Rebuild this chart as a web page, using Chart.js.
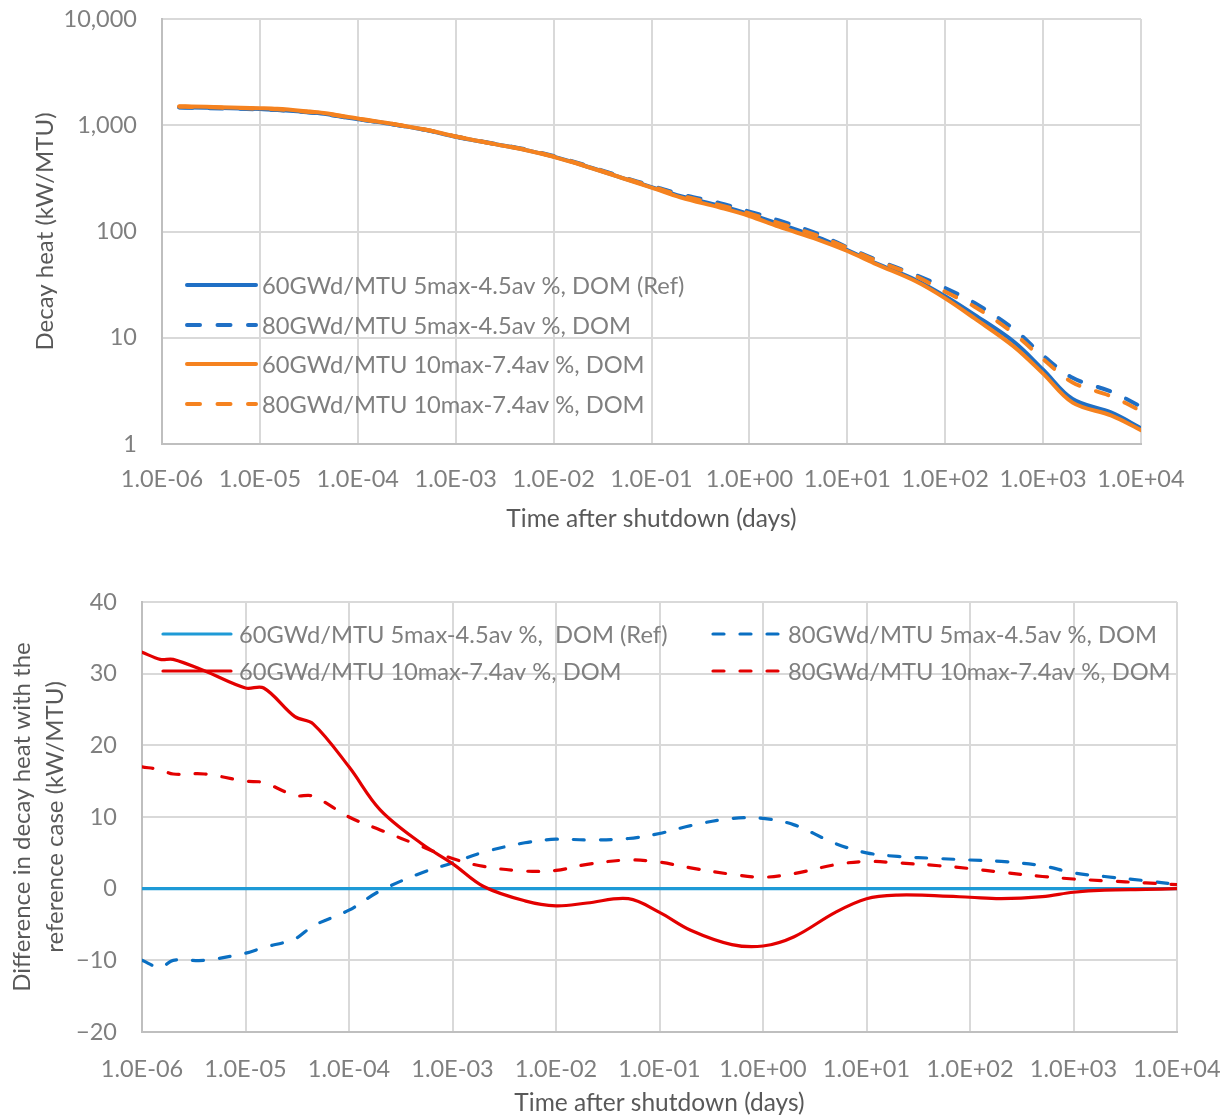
<!DOCTYPE html>
<html>
<head>
<meta charset="utf-8">
<title>Decay heat after shutdown</title>
<script src="https://cdn.jsdelivr.net/npm/chart.js@4.4.1/dist/chart.umd.min.js"></script>
<style>
  html, body { margin: 0; padding: 0; background: #ffffff; }
  #page { position: relative; width: 1230px; height: 1119px; overflow: hidden; }
  .panel { position: absolute; left: 0; width: 1230px; }
  #heatPanel { top: 0; height: 545px; }
  #diffPanel { top: 545px; height: 574px; }
  canvas { display: block; }
</style>
</head>
<body>
<div id="page">
  <div class="panel" id="heatPanel"><canvas id="heatChart" width="1230" height="545"></canvas></div>
  <div class="panel" id="diffPanel"><canvas id="diffChart" width="1230" height="574"></canvas></div>
</div>
<script>
// ---------- Series names ----------
const heatLabels = [
  '60GWd/MTU 5max-4.5av %, DOM (Ref)',
  '80GWd/MTU 5max-4.5av %, DOM',
  '60GWd/MTU 10max-7.4av %, DOM',
  '80GWd/MTU 10max-7.4av %, DOM'
];
const diffLabels = [
  '60GWd/MTU 5max-4.5av %,  DOM (Ref)',
  '80GWd/MTU 5max-4.5av %, DOM',
  '60GWd/MTU 10max-7.4av %, DOM',
  '80GWd/MTU 10max-7.4av %, DOM'
];

// ---------- Decay heat (kW/MTU) vs time after shutdown (days) ----------
const heatTimes = [1.5e-6, 2e-6, 4e-6, 1e-5, 1.5e-5, 3e-5, 4.5e-5, 1e-4, 2e-4, 5e-4,
  1e-3, 2e-3, 5e-3, 1e-2, 2e-2, 5e-2, 1e-1, 2e-1, 5e-1, 1,
  2, 5, 10, 20, 50, 100, 200, 500, 1000, 2000, 5000, 10000];
const heat60Enr5 = [1480, 1470, 1450, 1420, 1400, 1330, 1280, 1140, 1040, 900,
  780, 690, 590, 506, 420, 320, 262, 215, 175, 146,
  118, 88, 67, 50, 35, 24.6, 16.4, 9.2, 5.0, 2.65, 1.97, 1.41];
const heat80Enr5 = [1470, 1459, 1440, 1411, 1392, 1323, 1275, 1137, 1040, 902,
  784, 695, 597, 513, 427, 327, 270, 224, 185, 154,
  127, 95, 71, 54, 39, 29.4, 21.2, 12.1, 6.8, 4.2, 3.1, 2.25];
const heat60Enr10 = [1513, 1502, 1480, 1448, 1428, 1354, 1303, 1157, 1051, 906,
  784, 690, 588, 504, 418, 319, 259, 209, 168, 140,
  111, 84, 65.5, 49, 34, 23.5, 15.2, 8.3, 4.6, 2.45, 1.85, 1.35];
const heat80Enr10 = [1497, 1486, 1466, 1435, 1415, 1343, 1293, 1150, 1048, 906,
  784, 693, 593, 509, 423, 324, 266, 218, 177, 148,
  120, 91, 70, 53, 38, 27.1, 19.6, 11.0, 6.3, 3.8, 2.8, 2.05];

// ---------- Difference from the reference case (kW/MTU) ----------
const diffTimes = [1e-6, 1.5e-6, 2e-6, 4e-6, 1e-5, 1.5e-5, 3e-5, 4.5e-5, 1e-4, 2e-4,
  5e-4, 1e-3, 2e-3, 5e-3, 1e-2, 2e-2, 5e-2, 1e-1, 2e-1, 5e-1,
  1, 2, 5, 10, 20, 50, 100, 200, 500, 1000, 2000, 5000, 10000];
const diff60Enr5 = [0, 0, 0, 0, 0, 0, 0, 0, 0, 0,
  0, 0, 0, 0, 0, 0, 0, 0, 0, 0,
  0, 0, 0, 0, 0, 0, 0, 0, 0, 0, 0, 0, 0];
const diff80Enr5 = [-10, -11, -10, -10, -9, -8.2, -7, -5.2, -3, -0.3,
  2.2, 3.6, 5.1, 6.4, 6.9, 6.8, 7.0, 7.7, 8.8, 9.8,
  9.8, 8.9, 6.3, 5.0, 4.5, 4.2, 4.0, 3.8, 3.2, 2.2, 1.7, 1.1, 0.6];
const diff60Enr10 = [33, 32, 32, 30.4, 28, 28, 24, 23, 17, 11,
  6.3, 3.5, 0.3, -1.7, -2.4, -2.0, -1.4, -3.3, -5.8, -7.8,
  -8.0, -6.7, -3.3, -1.4, -0.9, -1.0, -1.2, -1.4, -1.1, -0.5, -0.2, -0.1, 0];
const diff80Enr10 = [17, 16.6, 16, 16, 15, 14.8, 13, 12.9, 10, 8.2,
  5.9, 4.2, 3.1, 2.45, 2.55, 3.4, 4.0, 3.7, 2.9, 2.0,
  1.6, 2.1, 3.35, 3.8, 3.6, 3.2, 2.8, 2.3, 1.7, 1.35, 1.1, 0.8, 0.55];

// ---------- Axis ticks ----------
const timeTickValues = [1e-6, 1e-5, 1e-4, 1e-3, 1e-2, 1e-1, 1, 10, 100, 1000, 10000];
const timeTickLabels = ['1.0E-06', '1.0E-05', '1.0E-04', '1.0E-03', '1.0E-02', '1.0E-01',
  '1.0E+00', '1.0E+01', '1.0E+02', '1.0E+03', '1.0E+04'];
const heatTickValues = [1, 10, 100, 1000, 10000];
const heatTickLabels = ['1', '10', '100', '1,000', '10,000'];
const diffTickValues = [-20, -10, 0, 10, 20, 30, 40];
const diffTickLabels = ['\u221220', '\u221210', '0', '10', '20', '30', '40'];

// ---------- Styling ----------
const FAMILY = 'Lato, "Open Sans", "DejaVu Sans", sans-serif';
const TICK_COLOR = '#7f7f7f';
const TITLE_COLOR = '#595959';
const GRID_COLOR = '#d9d9d9';
const AXIS_COLOR = '#bfbfbf';
const tickFont = { family: FAMILY, size: 23.5, lineHeight: 1.2 };
const xTitleFont = { family: FAMILY, size: 24.5, lineHeight: 1.2 };
const yTitleFont = { family: FAMILY, size: 24, lineHeight: 1.2 };
const LEGEND_SIZE = 23.7;

Chart.defaults.font.family = FAMILY;
Chart.defaults.animation = false;

const toPoints = (xs, ys) => xs.map((x, i) => ({ x: x, y: ys[i] }));

function lineSet(label, xs, ys, color, width, dash, order) {
  return {
    label: label,
    data: toPoints(xs, ys),
    borderColor: color,
    backgroundColor: color,
    borderWidth: width,
    borderDash: dash,
    borderCapStyle: 'round',
    borderJoinStyle: 'round',
    pointRadius: 0,
    pointHoverRadius: 0,
    fill: false,
    tension: 0.35,
    order: order
  };
}

// Legend drawn inside the plot area, using each dataset's own style
const plotLegend = {
  id: 'plotLegend',
  afterDatasetsDraw(chart, args, opts) {
    const ctx = chart.ctx;
    ctx.save();
    ctx.font = opts.fontSize + 'px ' + FAMILY;
    ctx.textBaseline = 'middle';
    ctx.textAlign = 'left';
    chart.data.datasets.forEach((ds, i) => {
      const it = opts.items[i];
      ctx.beginPath();
      ctx.strokeStyle = ds.borderColor;
      ctx.lineWidth = ds.borderWidth;
      ctx.lineCap = 'round';
      ctx.setLineDash(ds.borderDash || []);
      ctx.moveTo(it.x0, it.y);
      ctx.lineTo(it.x1, it.y);
      ctx.stroke();
      ctx.setLineDash([]);
      ctx.fillStyle = opts.color;
      ctx.fillText(ds.label, it.tx, it.y + 1);
    });
    ctx.restore();
  }
};

// Keep tick-label overflow from pushing the plot area around
function noOverflow(s) {
  s.paddingTop = 0; s.paddingBottom = 0; s.paddingLeft = 0; s.paddingRight = 0;
}

function timeAxis(axisHeight, tickPad, titlePadBottom) {
  return {
    type: 'logarithmic',
    min: 1e-6,
    max: 1e4,
    afterBuildTicks: s => { s.ticks = timeTickValues.map(v => ({ value: v })); },
    afterFit: s => { s.height = axisHeight; noOverflow(s); },
    ticks: {
      autoSkip: false, maxRotation: 0, minRotation: 0,
      padding: tickPad, color: TICK_COLOR, font: tickFont,
      callback: (v, i) => timeTickLabels[i]
    },
    grid: { color: GRID_COLOR, lineWidth: 2, drawTicks: false },
    border: { color: AXIS_COLOR, width: 2 },
    title: {
      display: true, text: 'Time after shutdown (days)', color: TITLE_COLOR,
      font: xTitleFont, padding: { top: 0, bottom: titlePadBottom }
    }
  };
}

// ---------- Upper chart: decay heat, log-log ----------
new Chart(document.getElementById('heatChart'), {
  type: 'line',
  data: {
    datasets: [
      lineSet(heatLabels[0], heatTimes, heat60Enr5, '#1f6fc5', 4, [], 4),
      lineSet(heatLabels[1], heatTimes, heat80Enr5, '#1f6fc5', 4, [13, 17.5], 3),
      lineSet(heatLabels[2], heatTimes, heat60Enr10, '#f5821f', 4, [], 2),
      lineSet(heatLabels[3], heatTimes, heat80Enr10, '#f5821f', 4, [13, 17.5], 1)
    ]
  },
  options: {
    responsive: false,
    animation: false,
    layout: { padding: { top: 19, right: 89, left: 0, bottom: 0 } },
    plugins: {
      legend: { display: false },
      tooltip: { enabled: false },
      plotLegend: {
        fontSize: LEGEND_SIZE, color: TICK_COLOR,
        items: [
          { x0: 187, x1: 256, y: 285, tx: 262 },
          { x0: 187, x1: 256, y: 325, tx: 262 },
          { x0: 187, x1: 256, y: 364, tx: 262 },
          { x0: 187, x1: 256, y: 404, tx: 262 }
        ]
      }
    },
    scales: {
      x: timeAxis(101, 21, 11),
      y: {
        type: 'logarithmic',
        min: 1,
        max: 10000,
        afterBuildTicks: s => { s.ticks = heatTickValues.map(v => ({ value: v })); },
        afterFit: s => { s.width = 162; noOverflow(s); },
        ticks: {
          autoSkip: false, padding: 25, color: TICK_COLOR, font: tickFont,
          callback: (v, i) => heatTickLabels[i]
        },
        grid: { color: GRID_COLOR, lineWidth: 2, drawTicks: false },
        border: { color: AXIS_COLOR, width: 2 },
        title: {
          display: true, text: 'Decay heat (kW/MTU)', color: TITLE_COLOR,
          font: yTitleFont, padding: { top: 31, bottom: 0 }
        }
      }
    }
  },
  plugins: [plotLegend]
});

// ---------- Lower chart: difference with the reference case ----------
new Chart(document.getElementById('diffChart'), {
  type: 'line',
  data: {
    datasets: [
      lineSet(diffLabels[0], diffTimes, diff60Enr5, '#1e9ad6', 3.2, [], 4),
      lineSet(diffLabels[1], diffTimes, diff80Enr5, '#0a6fc2', 3.2, [11, 16], 3),
      lineSet(diffLabels[2], diffTimes, diff60Enr10, '#e30000', 3.2, [], 2),
      lineSet(diffLabels[3], diffTimes, diff80Enr10, '#e30000', 3.2, [11, 16], 1)
    ]
  },
  options: {
    responsive: false,
    animation: false,
    layout: { padding: { top: 57, right: 53, left: 0, bottom: 0 } },
    plugins: {
      legend: { display: false },
      tooltip: { enabled: false },
      plotLegend: {
        fontSize: LEGEND_SIZE, color: TICK_COLOR,
        items: [
          { x0: 163, x1: 231, y: 89, tx: 239 },
          { x0: 713, x1: 781, y: 89, tx: 788 },
          { x0: 163, x1: 231, y: 126, tx: 239 },
          { x0: 713, x1: 781, y: 126, tx: 788 }
        ]
      }
    },
    scales: {
      x: timeAxis(87, 23, 1),
      y: {
        type: 'linear',
        min: -20,
        max: 40,
        afterBuildTicks: s => { s.ticks = diffTickValues.map(v => ({ value: v })); },
        afterFit: s => { s.width = 142; noOverflow(s); },
        ticks: {
          autoSkip: false, padding: 25, color: TICK_COLOR, font: tickFont,
          callback: (v, i) => diffTickLabels[i]
        },
        grid: { color: GRID_COLOR, lineWidth: 2, drawTicks: false },
        border: { color: AXIS_COLOR, width: 2 },
        title: {
          display: true,
          text: ['Difference in decay heat with the', 'reference case (kW/MTU)'],
          color: TITLE_COLOR,
          font: { family: FAMILY, size: 24, lineHeight: 1.4 },
          padding: { top: 5, bottom: 0 }
        }
      }
    }
  },
  plugins: [plotLegend]
});
</script>
</body>
</html>
